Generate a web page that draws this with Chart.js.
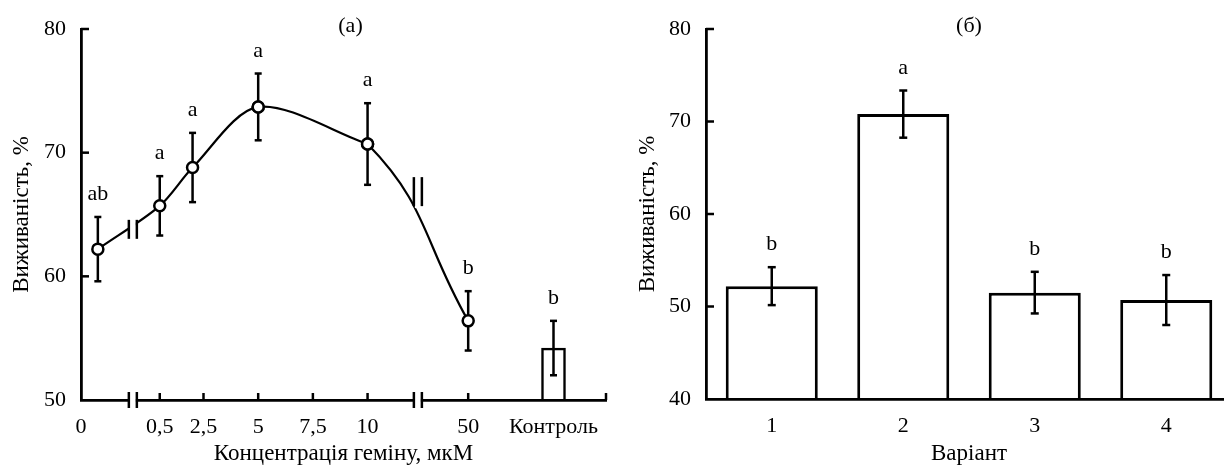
<!DOCTYPE html>
<html lang="uk">
<head>
<meta charset="utf-8">
<title>Виживаність</title>
<script src="https://cdn.jsdelivr.net/npm/chart.js@4.4.1/dist/chart.umd.min.js"></script>
<style>
  html, body { margin: 0; padding: 0; background: #fff; overflow: hidden; }
  body { width: 1224px; height: 468px; position: relative; }
  .box { position: absolute; top: 0; height: 468px; }
  #boxA { left: 0; width: 620px; }
  #boxB { left: 620px; width: 612px; }
</style>
</head>
<body>
<div class="box" id="boxA"><canvas id="chartA"></canvas></div>
<div class="box" id="boxB"><canvas id="chartB"></canvas></div>
<script>
'use strict';

// --- (а) концентрація геміну ---
// вісь розірвана, тому x — позиція на осі (лінійна в середньому відрізку)
const A_TICK_POS = [-3.1, 0.5, 2.5, 5, 7.5, 10, 14.6, 18.5, 20.9];
const A_TICK_LABELS = ['0', '0,5', '2,5', '5', '7,5', '10', '50', 'Контроль', ''];
const A_X = [-2.33, 0.5, 2.0, 5, 10, 14.6];
const A_MEAN = [62.2, 65.7, 68.8, 73.7, 70.7, 56.4];
const A_ERR = [2.6, 2.4, 2.8, 2.7, 3.3, 2.4];
const A_SIG = ['ab', 'a', 'a', 'a', 'a', 'b'];
const A_CTRL_X = 18.5;
const A_CTRL = 54.2;
const A_CTRL_ERR = 2.2;
const A_CTRL_SIG = 'b';
const A_BREAK_X = [-0.73, 12.3];
const A_BREAK_Y = [63.8, 66.85];
const A_Y_MIN = 50, A_Y_MAX = 80;

// --- (б) варіанти ---
const B_LABELS = ['1', '2', '3', '4'];
const B_MEAN = [52.2, 70.8, 51.5, 50.7];
const B_ERR = [2.05, 2.55, 2.25, 2.7];
const B_SIG = ['b', 'a', 'b', 'b'];
const B_Y_MIN = 40, B_Y_MAX = 80;

const FONT = '"Liberation Serif", "Times New Roman", serif';
const INK = '#000';
const BREAK_H = [19, 29];
const TITLE_SHIFT_A = 7;

Chart.defaults.font.family = FONT;
Chart.defaults.font.size = 22;
Chart.defaults.color = INK;

function seg(ctx, x1, y1, x2, y2) {
  ctx.beginPath();
  ctx.moveTo(x1, y1);
  ctx.lineTo(x2, y2);
  ctx.stroke();
}

function errorBar(ctx, x, yTop, yBot, cap) {
  seg(ctx, x, yTop, x, yBot);
  seg(ctx, x - cap, yTop, x + cap, yTop);
  seg(ctx, x - cap, yBot, x + cap, yBot);
}

function breakMark(ctx, px, py, h) {
  ctx.save();
  ctx.fillStyle = '#fff';
  ctx.fillRect(px - 3, py - h / 2 - 2, 6, h + 4);
  ctx.restore();
  seg(ctx, px - 4, py - h / 2, px - 4, py + h / 2);
  seg(ctx, px + 4, py - h / 2, px + 4, py + h / 2);
}

function sigText(ctx, txt, x, yTop) {
  ctx.font = '22px ' + FONT;
  ctx.textAlign = 'center';
  ctx.textBaseline = 'alphabetic';
  ctx.fillText(txt, x, yTop - 17);
}

function inwardYTicks(ctx, area, y) {
  y.ticks.forEach(t => {
    if (t.value <= y.min) return;
    const py = y.getPixelForValue(t.value);
    seg(ctx, area.left, py, area.left + 8, py);
  });
}

function panelTitle(ctx, txt, x) {
  ctx.font = '22px ' + FONT;
  ctx.textAlign = 'center';
  ctx.textBaseline = 'middle';
  ctx.fillText(txt, x, 26);
}

const axisBorder = { display: true, color: INK, width: 2.8, z: 1 };
const titleFont = { size: 23 };

const pointStyle = {
  borderColor: INK,
  borderWidth: 2.2,
  pointRadius: 5.5,
  pointBorderWidth: 2.5,
  pointBackgroundColor: '#fff',
  pointBorderColor: INK,
  clip: false,
};

// ---------- (а) ----------
const overlayA = {
  id: 'overlayA',
  beforeDatasetsDraw(chart) {
    const { ctx, scales: { x, y } } = chart;
    ctx.save();
    ctx.strokeStyle = INK;
    ctx.lineWidth = 2.5;
    A_X.forEach((v, i) => {
      errorBar(ctx, x.getPixelForValue(v),
        y.getPixelForValue(A_MEAN[i] + A_ERR[i]),
        y.getPixelForValue(A_MEAN[i] - A_ERR[i]), 3.5);
    });
    ctx.restore();
  },
  afterDraw(chart) {
    const { ctx, chartArea: area, scales: { x, y } } = chart;
    ctx.save();
    ctx.strokeStyle = INK;
    ctx.fillStyle = INK;
    ctx.lineWidth = 2.5;

    const cx = x.getPixelForValue(A_CTRL_X);
    errorBar(ctx, cx, y.getPixelForValue(A_CTRL + A_CTRL_ERR), y.getPixelForValue(A_CTRL - A_CTRL_ERR), 3.5);

    inwardYTicks(ctx, area, y);
    x.ticks.forEach(t => {
      if (t.value <= x.min || t.value === A_CTRL_X) return;
      const px = x.getPixelForValue(t.value);
      seg(ctx, px, area.bottom, px, area.bottom - 7);
    });

    A_BREAK_X.forEach((bx, i) => {
      const px = x.getPixelForValue(bx);
      breakMark(ctx, px, area.bottom, 16);
      breakMark(ctx, px, y.getPixelForValue(A_BREAK_Y[i]), BREAK_H[i]);
    });

    A_X.forEach((v, i) => sigText(ctx, A_SIG[i], x.getPixelForValue(v), y.getPixelForValue(A_MEAN[i] + A_ERR[i])));
    sigText(ctx, A_CTRL_SIG, cx, y.getPixelForValue(A_CTRL + A_CTRL_ERR));

    panelTitle(ctx, '(а)', (area.left + area.right) / 2 + TITLE_SHIFT_A);
    ctx.restore();
  }
};

const aPoints = A_X.map((v, i) => ({ x: v, y: A_MEAN[i] }));

new Chart(document.getElementById('chartA'), {
  type: 'line',
  data: {
    datasets: [
      // висхідна частина кривої до 10 мкМ
      { type: 'line', data: aPoints.slice(0, 5), tension: 0.3, ...pointStyle },
      // спад 10 → 50 мкМ (перший відрізок прихований)
      {
        type: 'line',
        data: aPoints.slice(3),
        tension: 0.45,
        ...pointStyle,
        segment: { borderColor: c => (c.p0DataIndex === 0 ? 'rgba(0,0,0,0)' : INK) },
      },
      {
        type: 'bar',
        data: [{ x: A_CTRL_X, y: A_CTRL }],
        base: A_Y_MIN,
        backgroundColor: '#fff',
        borderColor: INK,
        borderWidth: 2.5,
        barThickness: 24,
      },
    ],
  },
  options: {
    responsive: true,
    maintainAspectRatio: false,
    animation: false,
    layout: { padding: { top: 29, right: 13, bottom: 0, left: 0 } },
    plugins: { legend: { display: false }, tooltip: { enabled: false } },
    scales: {
      x: {
        type: 'linear',
        offset: false,
        min: A_TICK_POS[0],
        max: A_TICK_POS[A_TICK_POS.length - 1],
        afterBuildTicks: s => { s.ticks = A_TICK_POS.map(v => ({ value: v })); },
        afterFit: s => { s.height = 68; },
        grid: { display: false, drawTicks: false, offset: false },
        border: axisBorder,
        ticks: {
          padding: 14,
          maxRotation: 0,
          autoSkip: false,
          callback: v => A_TICK_LABELS[A_TICK_POS.indexOf(v)] ?? '',
        },
        title: { display: true, text: 'Концентрація геміну, мкМ', font: titleFont, padding: { top: 0, bottom: 0 } },
      },
      y: {
        min: A_Y_MIN,
        max: A_Y_MAX,
        afterFit: s => { s.width = 81; },
        grid: { display: false, drawTicks: false },
        border: axisBorder,
        ticks: { stepSize: 10, padding: 15 },
        title: { display: true, text: 'Виживаність, %', font: titleFont, padding: { top: 8, bottom: 0 } },
      },
    },
  },
  plugins: [overlayA],
});

// ---------- (б) ----------
const overlayB = {
  id: 'overlayB',
  afterDraw(chart) {
    const { ctx, chartArea: area, scales: { x, y } } = chart;
    ctx.save();
    ctx.strokeStyle = INK;
    ctx.fillStyle = INK;
    ctx.lineWidth = 2.5;
    B_MEAN.forEach((m, i) => {
      const px = x.getPixelForValue(i);
      const top = y.getPixelForValue(m + B_ERR[i]);
      errorBar(ctx, px, top, y.getPixelForValue(m - B_ERR[i]), 4);
      sigText(ctx, B_SIG[i], px, top);
    });
    inwardYTicks(ctx, area, y);
    panelTitle(ctx, '(б)', (area.left + area.right) / 2);
    ctx.restore();
  }
};

new Chart(document.getElementById('chartB'), {
  type: 'bar',
  data: {
    labels: B_LABELS,
    datasets: [{
      data: B_MEAN,
      base: B_Y_MIN,
      backgroundColor: '#fff',
      borderColor: INK,
      borderWidth: 3,
      categoryPercentage: 1,
      barPercentage: 0.7,
    }],
  },
  options: {
    responsive: true,
    maintainAspectRatio: false,
    animation: false,
    layout: { padding: { top: 29, right: 0, bottom: 0, left: 0 } },
    plugins: { legend: { display: false }, tooltip: { enabled: false } },
    scales: {
      x: {
        afterFit: s => { s.height = 69; },
        grid: { display: false, drawTicks: false },
        border: axisBorder,
        ticks: { padding: 14, maxRotation: 0 },
        title: { display: true, text: 'Варіант', font: titleFont, padding: { top: 0, bottom: 0 } },
      },
      y: {
        min: B_Y_MIN,
        max: B_Y_MAX,
        afterFit: s => { s.width = 86; },
        grid: { display: false, drawTicks: false },
        border: axisBorder,
        ticks: { stepSize: 10, padding: 15 },
        title: { display: true, text: 'Виживаність, %', font: titleFont, padding: { top: 14, bottom: 0 } },
      },
    },
  },
  plugins: [overlayB],
});
</script>
</body>
</html>
